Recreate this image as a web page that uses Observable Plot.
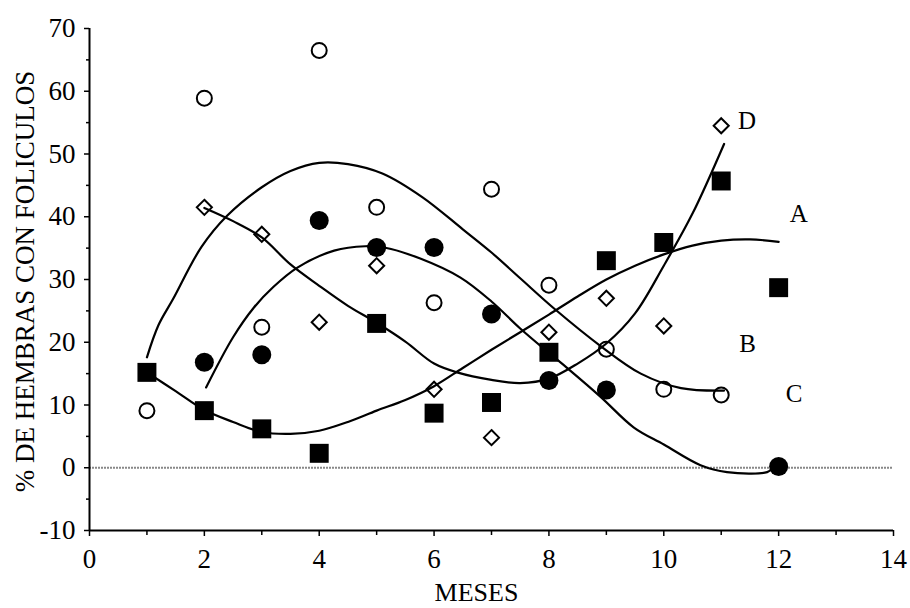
<!DOCTYPE html>
<html>
<head>
<meta charset="utf-8">
<script src="https://cdn.jsdelivr.net/npm/d3@7"></script>
<script src="https://cdn.jsdelivr.net/npm/@observablehq/plot@0.6"></script>
<style>
  html, body { margin: 0; padding: 0; background: #fff; }
</style>
</head>
<body>
<div id="chart"></div>
<script>
// ---- Data ----
// Series A: filled squares
const squareMonths = [1, 2, 3, 4, 5, 6, 7, 8, 9, 10, 11, 12];
const squareValues = [15.2, 9.1, 6.2, 2.3, 23.0, 8.7, 10.4, 18.4, 33.0, 35.9, 45.7, 28.7];
// Series B: filled circles
const filledMonths = [2, 3, 4, 5, 6, 7, 8, 9, 12];
const filledValues = [16.8, 18.0, 39.4, 35.1, 35.1, 24.5, 13.9, 12.4, 0.2];
// Series C: open circles
const openMonths = [1, 2, 3, 4, 5, 6, 7, 8, 9, 10, 11];
const openValues = [9.1, 58.9, 22.4, 66.5, 41.5, 26.3, 44.4, 29.1, 18.9, 12.5, 11.6];
// Series D: open diamonds
const diamondMonths = [2, 3, 4, 5, 6, 7, 8, 9, 10, 11];
const diamondValues = [41.5, 37.2, 23.2, 32.2, 12.5, 4.8, 21.6, 27.0, 22.6, 54.5];

// Fitted curves as drawn in the picture
const curveAx = [1.0, 1.5, 2.0, 2.5, 3.0, 3.5, 4.0, 4.5, 5.0, 5.5, 6.0, 6.5, 7.0, 7.5, 8.0, 8.5, 9.0, 9.5, 10.0, 10.5, 11.0, 11.5, 12.0];
const curveAy = [15.2, 12.2, 9.2, 7.3, 5.7, 5.4, 5.9, 7.3, 9.1, 10.8, 13.0, 15.9, 18.8, 21.6, 24.4, 27.3, 30.0, 32.2, 34.0, 35.4, 36.2, 36.4, 36.0];
const curveBx = [2.03, 2.5, 2.86, 3.2, 3.62, 4.26, 4.8, 5.13, 5.77, 6.46, 7.0, 7.5, 8.0, 8.33, 8.9, 9.48, 10.0, 10.64, 11.1, 11.8, 11.9];
const curveBy = [12.8, 20.8, 25.5, 28.8, 31.9, 34.6, 35.3, 35.1, 33.3, 30.3, 26.5, 22.2, 18.3, 15.8, 11.3, 6.4, 3.7, 0.4, -0.7, -0.7, 0.0];
const curveCx = [1.0, 1.2, 1.45, 1.95, 2.4, 3.0, 3.5, 4.0, 4.5, 5.1, 5.8, 6.5, 7.0, 7.5, 8.1, 8.9, 9.6, 10.3, 11.05];
const curveCy = [17.6, 22.7, 26.8, 35.2, 40.2, 44.7, 47.3, 48.6, 48.4, 46.9, 43.1, 38.0, 34.3, 30.2, 25.3, 19.4, 15.0, 12.7, 12.3];
const curveDx = [2.0, 2.5, 3.0, 3.5, 4.0, 4.5, 5.0, 5.5, 6.0, 6.4, 7.0, 7.5, 8.0, 8.5, 9.0, 9.5, 10.0, 10.5, 11.05];
const curveDy = [41.4, 39.3, 36.7, 32.4, 29.0, 25.8, 23.1, 20.1, 16.6, 15.2, 14.0, 13.5, 14.2, 16.6, 19.8, 24.6, 32.2, 40.5, 51.6];

// Curve labels
const curveLabels = ["A", "B", "C", "D"];
const labelX = [12.35, 11.46, 12.27, 11.45];
const labelY = [40.5, 19.8, 11.8, 55.3];

// Axis ticks and texts
const xTicks = [0, 2, 4, 6, 8, 10, 12, 14];
const xMinorTicks = [1, 3, 5, 7, 9, 11, 13];
const yTicks = [-10, 0, 10, 20, 30, 40, 50, 60, 70];
const yMinorTicks = [-5, 5, 15, 25, 35, 45, 55, 65];
const xTitle = "MESES";
const yTitle = "% DE HEMBRAS CON FOLICULOS";

// ---- Build tables ----
const toRows = (xs, ys) => xs.map((x, i) => ({x, y: ys[i]}));
const squares = toRows(squareMonths, squareValues);
const filled = toRows(filledMonths, filledValues);
const open = toRows(openMonths, openValues);
const diamonds = toRows(diamondMonths, diamondValues);
const curves = [
  ...toRows(curveAx, curveAy).map(d => ({...d, s: "A"})),
  ...toRows(curveBx, curveBy).map(d => ({...d, s: "B"})),
  ...toRows(curveCx, curveCy).map(d => ({...d, s: "C"})),
  ...toRows(curveDx, curveDy).map(d => ({...d, s: "D"}))
];
const labels = curveLabels.map((t, i) => ({t, x: labelX[i], y: labelY[i]}));

const fmt = d => (d < 0 ? "-" + Math.abs(d) : String(d));

const chart = Plot.plot({
  width: 910,
  height: 608,
  marginLeft: 89,
  marginRight: 17,
  marginTop: 28,
  marginBottom: 78,
  style: {fontFamily: "'Liberation Serif', 'DejaVu Serif', serif", fontSize: "26px", background: "#fff", color: "#000"},
  x: {domain: [0, 14], axis: null},
  y: {domain: [-10, 70], axis: null},
  marks: [
    Plot.ruleY([0], {stroke: "#888", strokeWidth: 2, strokeDasharray: "2,1"}),
    Plot.line(curves, {x: "x", y: "y", z: "s", curve: "catmull-rom", stroke: "#000", strokeWidth: 2.2}),
    Plot.dot(squares, {x: "x", y: "y", symbol: "square", r: 10.7, fill: "#000", stroke: "none"}),
    Plot.dot(filled, {x: "x", y: "y", symbol: "circle", r: 9.5, fill: "#000", stroke: "none"}),
    Plot.dot(open, {x: "x", y: "y", symbol: "circle", r: 7.5, fill: "none", stroke: "#000", strokeWidth: 2}),
    Plot.dot(diamonds, {x: "x", y: "y", symbol: "diamond2", r: 6.8, fill: "none", stroke: "#000", strokeWidth: 2}),
    Plot.text(labels, {x: "x", y: "y", text: "t", fontSize: 25}),
    Plot.ruleX([0], {stroke: "#000", strokeWidth: 2}),
    Plot.ruleY([-10], {stroke: "#000", strokeWidth: 2}),
    Plot.axisX({ticks: xTicks, tickSize: 6, tickPadding: 12, tickFormat: fmt, label: null, fontSize: 27, strokeWidth: 1.5}),
    Plot.axisX({ticks: xMinorTicks, tickSize: 5, tickFormat: () => "", label: null, strokeWidth: 1.5}),
    Plot.axisY({ticks: yTicks, tickSize: 5, tickPadding: 9, tickFormat: fmt, label: null, fontSize: 27, strokeWidth: 1.5}),
    Plot.axisY({ticks: yMinorTicks, tickSize: 3, tickFormat: () => "", label: null, strokeWidth: 1.5}),
    Plot.text([yTitle], {text: d => d, frameAnchor: "left", textAnchor: "middle", lineAnchor: "middle", dx: -64, dy: 2, rotate: -90, fontSize: 27}),
    Plot.text([xTitle], {text: d => d, frameAnchor: "bottom", textAnchor: "middle", lineAnchor: "middle", dx: -15, dy: 62, fontSize: 26})
  ]
});

document.getElementById("chart").appendChild(chart);
</script>
</body>
</html>
